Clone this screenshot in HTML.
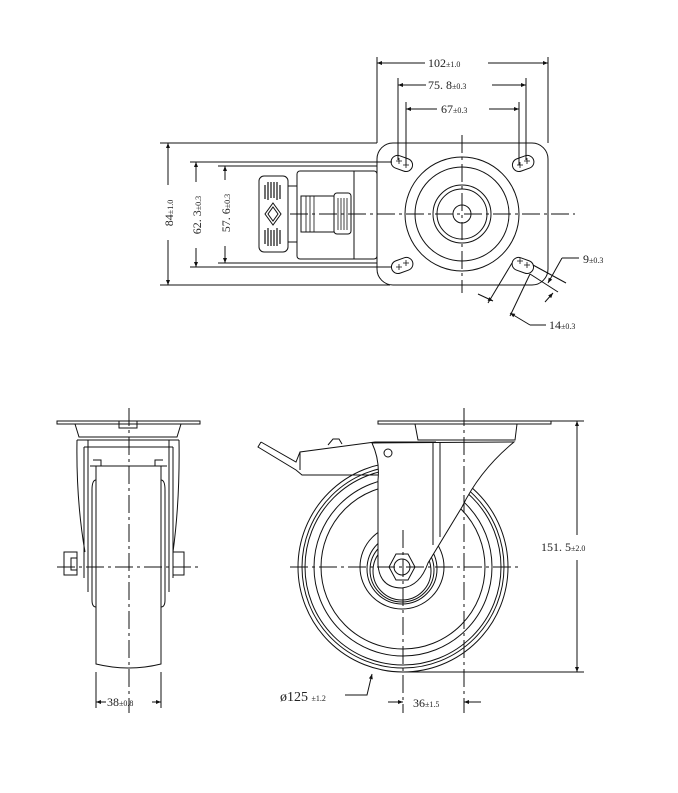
<!DOCTYPE html>
<html><head><meta charset="utf-8"><style>
html,body{margin:0;padding:0;background:#fff}
svg{display:block}
text{font-family:"Liberation Serif","Noto Serif CJK SC",serif;fill:#222;font-size:12px}
.s{font-size:8px}
</style></head><body>
<svg width="678" height="793" viewBox="0 0 678 793" xmlns="http://www.w3.org/2000/svg">
<defs>
<marker id="a" viewBox="0 0 10 10" refX="10" refY="5" markerWidth="7" markerHeight="5" orient="auto-start-reverse"><path d="M0,1 L10,5 L0,9z" fill="#111"/></marker>
</defs>
<g fill="none" stroke="#111" stroke-width="1">
<!-- TOP VIEW -->
<rect x="377" y="143" width="171" height="142" rx="16"/>
<line x1="377" y1="57" x2="377" y2="143"/><line x1="548" y1="57" x2="548" y2="143"/>
<line x1="377" y1="63" x2="425" y2="63" marker-start="url(#a)"/><line x1="488" y1="63" x2="548" y2="63" marker-end="url(#a)"/>
<line x1="398" y1="78" x2="398" y2="160"/><line x1="526" y1="78" x2="526" y2="160"/>
<line x1="398" y1="85" x2="426" y2="85" marker-start="url(#a)"/><line x1="492" y1="85" x2="526" y2="85" marker-end="url(#a)"/>
<line x1="406" y1="102" x2="406" y2="165"/><line x1="519" y1="102" x2="519" y2="165"/>
<line x1="406" y1="109" x2="437" y2="109" marker-start="url(#a)"/><line x1="489" y1="109" x2="519" y2="109" marker-end="url(#a)"/>
<circle cx="462" cy="214" r="57"/><circle cx="462" cy="214" r="47"/><circle cx="462" cy="214" r="29"/><circle cx="462" cy="214" r="25"/><circle cx="462" cy="214" r="9"/>
<line x1="462" y1="135" x2="462" y2="293" stroke-dasharray="18,4,3,4"/>
<line x1="290" y1="214" x2="575" y2="214" stroke-dasharray="18,4,3,4"/>
<rect x="391" y="157" width="22" height="13" rx="6.5" transform="rotate(20 402 163)"/>
<rect x="512" y="157" width="22" height="13" rx="6.5" transform="rotate(-20 523 163)"/>
<rect x="391" y="259" width="22" height="13" rx="6.5" transform="rotate(-20 402 265)"/>
<rect x="512" y="259" width="22" height="13" rx="6.5" transform="rotate(20 523 265)"/>
<path d="M396 161h6M399 158v6M403 165h6M406 162v6M517 165h6M520 162v6M524 161h6M527 158v6M396 267h6M399 264v6M403 263h6M406 260v6M517 261h6M520 258v6M524 265h6M527 262v6" stroke-width="0.8"/>
<line x1="160" y1="143" x2="377" y2="143"/><line x1="160" y1="285" x2="390" y2="285"/>
<line x1="168" y1="143" x2="168" y2="185" marker-start="url(#a)"/><line x1="168" y1="240" x2="168" y2="285" marker-end="url(#a)"/>
<line x1="190" y1="162" x2="392" y2="162"/><line x1="190" y1="267" x2="392" y2="267"/>
<line x1="196" y1="162" x2="196" y2="182" marker-start="url(#a)"/><line x1="196" y1="248" x2="196" y2="267" marker-end="url(#a)"/>
<line x1="218" y1="166" x2="377" y2="166"/><line x1="218" y1="263" x2="377" y2="263"/>
<line x1="225" y1="166" x2="225" y2="180" marker-start="url(#a)"/><line x1="225" y1="246" x2="225" y2="263" marker-end="url(#a)"/>
<rect x="297" y="171" width="80" height="88" rx="3"/><line x1="354" y1="171" x2="354" y2="259"/>
<path d="M288 186h9M288 242h9"/>
<rect x="259" y="176" width="29" height="76" rx="5"/>
<path d="M265 185v14M268 182v18M271 182v16M274 182v16M277 182v18M280 185v14M265 230v14M268 228v18M271 230v16M274 230v16M277 228v18M280 230v14" stroke-width="1.2"/>
<path d="M273 203l8 11-8 11-8-11z M273 207l5 7-5 7-5-7z"/>
<rect x="301" y="196" width="33" height="36"/><rect x="334" y="193" width="17" height="41" rx="3"/>
<path d="M306 196v36M310 196v36M314 196v36M338 198v32M341 198v32M344 198v32M347 198v32" stroke-width="0.8"/>
<line x1="533" y1="265" x2="566" y2="283"/><line x1="530" y1="274" x2="558" y2="292"/>
<line x1="562" y1="258" x2="548" y2="283" marker-end="url(#a)"/><line x1="579" y1="258" x2="562" y2="258"/>
<line x1="553" y1="293" x2="545" y2="302" marker-start="url(#a)"/>
<line x1="512" y1="263" x2="488" y2="303"/><line x1="530" y1="274" x2="510" y2="316"/>
<line x1="478" y1="294" x2="493" y2="301" marker-end="url(#a)"/>
<line x1="546" y1="325" x2="530" y2="325"/><line x1="530" y1="325" x2="510" y2="313" marker-end="url(#a)"/>

<!-- LEFT SIDE VIEW -->
<rect x="57" y="421" width="143" height="3"/>
<path d="M75 424 L79 437 H177 L181 424"/>
<rect x="119" y="421" width="18" height="7"/>
<path d="M77 440 H179 M77 440 Q76 500 85 552 M179 440 Q180 500 173 552"/>
<path d="M84 447 H173 M88 440 V592 M169 440 V592 M84 447 V578 M173 447 V578"/>
<path d="M90 466 H167 M93 460 h8 v6 M163 460 h-8 v6"/>
<path d="M96 480 Q92 480 92 490 V600 Q92 607 96 607 M161 480 Q165 480 165 490 V600 Q165 607 161 607"/>
<path d="M96 466 V664 Q129 672 161 664 V466"/>
<rect x="64" y="552" width="13" height="23"/><rect x="71" y="558" width="6" height="12"/>
<rect x="173" y="552" width="11" height="23"/>
<line x1="129" y1="408" x2="129" y2="713" stroke-dasharray="18,4,3,4"/>
<line x1="57" y1="567" x2="200" y2="567" stroke-dasharray="18,4,3,4"/>
<line x1="96" y1="672" x2="96" y2="708"/><line x1="161" y1="672" x2="161" y2="708"/>
<line x1="96" y1="702" x2="106" y2="702" marker-start="url(#a)"/><line x1="152" y1="702" x2="161" y2="702" marker-end="url(#a)"/>

<!-- RIGHT SIDE VIEW -->
<rect x="378" y="421" width="173" height="3"/>
<path d="M415 424 L418 440 H515 L517 424"/>
<circle cx="403" cy="567" r="105"/><circle cx="403" cy="567" r="101"/><circle cx="403" cy="567" r="98"/><circle cx="403" cy="567" r="89"/><circle cx="403" cy="567" r="82"/>
<circle cx="402" cy="567" r="42" fill="#fff"/><circle cx="402" cy="569" r="35"/><circle cx="402" cy="570" r="32"/><circle cx="402" cy="571" r="29"/>
<path d="M372 443 Q380 460 378 480 V565 Q380 588 402 588 Q420 586 428 563 L462 507 Q480 470 514 442 Z" fill="#fff"/>
<path d="M433 442 V545 M440 442 V537"/>
<path d="M396 554 H408 L415 567 L408 580 H396 L389 567 Z" fill="#fff"/>
<circle cx="402" cy="567" r="8"/>
<path d="M261 442 L258 447 L296 470 L302 475 H378 M261 442 L296 462 L300 452 L375 442 L436 442 M300 452 V470"/>
<path d="M328 445 l5 -6 h6 l3 5"/>
<circle cx="388" cy="453" r="4" fill="#fff"/>
<line x1="464" y1="408" x2="464" y2="713" stroke-dasharray="18,4,3,4"/>
<line x1="290" y1="567" x2="520" y2="567" stroke-dasharray="18,4,3,4"/>
<line x1="403" y1="530" x2="403" y2="713" stroke-dasharray="18,4,3,4"/>
<line x1="551" y1="421" x2="584" y2="421"/><line x1="403" y1="672" x2="584" y2="672"/>
<line x1="577" y1="421" x2="577" y2="535" marker-start="url(#a)"/><line x1="577" y1="560" x2="577" y2="672" marker-end="url(#a)"/>
<path d="M345 695 H367 L372 674" marker-end="url(#a)"/>
<line x1="388" y1="702" x2="403" y2="702" marker-end="url(#a)"/><line x1="481" y1="702" x2="464" y2="702" marker-end="url(#a)"/>
</g>
<text x="428" y="67">102<tspan class="s">±1.0</tspan></text>
<text x="428" y="89">75. 8<tspan class="s">±0.3</tspan></text>
<text x="441" y="113">67<tspan class="s">±0.3</tspan></text>
<text transform="translate(173 213) rotate(-90)" text-anchor="middle">84<tspan class="s">±1.0</tspan></text>
<text transform="translate(201 215) rotate(-90)" text-anchor="middle">62. 3<tspan class="s">±0.3</tspan></text>
<text transform="translate(230 213) rotate(-90)" text-anchor="middle">57. 6<tspan class="s">±0.3</tspan></text>
<text x="583" y="263">9<tspan class="s">±0.3</tspan></text>
<text x="549" y="329">14<tspan class="s">±0.3</tspan></text>
<text x="107" y="706">38<tspan class="s">±0.8</tspan></text>
<text x="280" y="701" style="font-size:14px">ø125 <tspan class="s">±1.2</tspan></text>
<text x="413" y="707">36<tspan class="s">±1.5</tspan></text>
<text x="541" y="551">151. 5<tspan class="s">±2.0</tspan></text>
</svg>
</body></html>
